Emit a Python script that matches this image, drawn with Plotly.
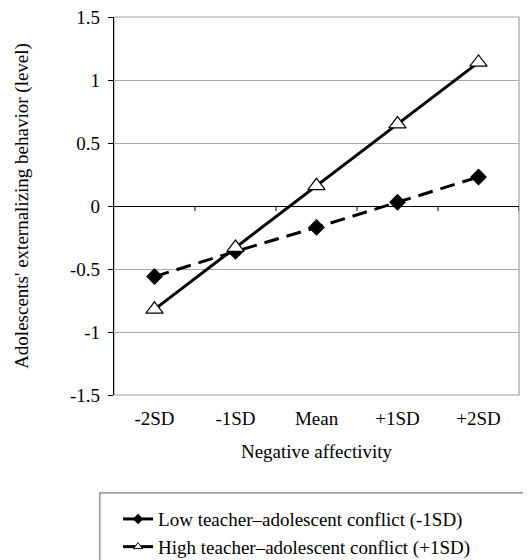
import plotly.graph_objects as go

categories = ["-2SD", "-1SD", "Mean", "+1SD", "+2SD"]
low_conflict = [-0.56, -0.36, -0.17, 0.03, 0.23]
high_conflict = [-0.82, -0.33, 0.16, 0.65, 1.14]
y_ticks = [-1.5, -1, -0.5, 0, 0.5, 1, 1.5]
y_ticklabels = ["-1.5", "-1", "-0.5", "0", "0.5", "1", "1.5"]
names = ["Low teacher\u2013adolescent conflict (-1SD)", "High teacher\u2013adolescent conflict (+1SD)"]

FONT = "Liberation Serif, Times New Roman, serif"
FS = 19
xidx = list(range(len(categories)))

low_line = dict(color="black", width=3, dash="15px,8px")
high_line = dict(color="black", width=3)

fig = go.Figure()
fig.add_trace(go.Scatter(
    x=xidx, y=low_conflict, name=names[0], mode="lines+markers", showlegend=False,
    line=low_line, marker=dict(symbol="diamond", size=13, color="black"),
))
fig.add_trace(go.Scatter(
    x=xidx, y=high_conflict, name=names[1], mode="lines+markers", showlegend=False,
    line=high_line,
    marker=dict(symbol="triangle-up", size=15, color="white", line=dict(color="black", width=1.2)),
))
# legend entries with the smaller legend symbols
fig.add_trace(go.Scatter(
    x=[None], y=[None], name=names[0], mode="lines+markers",
    line=dict(color="black", width=3), marker=dict(symbol="diamond", size=8, color="black"),
))
fig.add_trace(go.Scatter(
    x=[None], y=[None], name=names[1], mode="lines+markers",
    line=high_line,
    marker=dict(symbol="triangle-up", size=8, color="white", line=dict(color="black", width=1)),
))

shapes = []
shapes.append(dict(type="rect", xref="x domain", yref="y domain", x0=0, x1=1, y0=0, y1=1,
                   line=dict(color="#a0a0a0", width=1.2), layer="below"))
for b in [0.5, 1.5, 2.5, 3.5, 4.5]:
    shapes.append(dict(type="line", xref="x", yref="y", x0=b, x1=b, y0=0, y1=-0.04,
                       line=dict(color="black", width=1)))
shapes.append(dict(type="rect", xref="paper", yref="paper", x0=-0.035, x1=1.2, y0=-0.6, y1=-0.259,
                   line=dict(color="#7a7a7a", width=1.2), layer="below"))

fig.update_layout(
    width=531, height=560,
    margin=dict(l=106, r=20, t=9, b=173, autoexpand=False),
    paper_bgcolor="white", plot_bgcolor="white",
    font=dict(family=FONT, size=FS, color="black"),
    showlegend=True,
    legend=dict(x=0.01, y=-0.278, xanchor="left", yanchor="top",
                font=dict(family=FONT, size=FS, color="black"),
                bgcolor="rgba(0,0,0,0)", borderwidth=0, tracegroupgap=0),
    shapes=shapes,
    xaxis=dict(
        range=[-0.5, 4.5], tickmode="array", tickvals=xidx, ticktext=categories,
        showgrid=False, zeroline=False, showline=False, ticks="", automargin=False,
        ticklabelstandoff=10, ticklabeloverflow="allow",
        title=dict(text="Negative affectivity", font=dict(family=FONT, size=FS), standoff=16),
        tickfont=dict(family=FONT, size=FS),
    ),
    yaxis=dict(
        range=[-1.5, 1.5], tickmode="array", tickvals=y_ticks, ticktext=y_ticklabels,
        showgrid=True, gridcolor="#a6a6a6", gridwidth=1.2, automargin=False,
        zeroline=True, zerolinecolor="black", zerolinewidth=1.3,
        showline=True, linecolor="black", linewidth=1.3,
        ticks="outside", ticklen=5, tickcolor="black", tickwidth=1.2,
        ticklabelstandoff=4, ticklabeloverflow="allow",
        title=dict(text="Adolescents' externalizing behavior (level)", font=dict(family=FONT, size=FS), standoff=36),
        tickfont=dict(family=FONT, size=FS),
    ),
)

fig.write_html("out.html")
